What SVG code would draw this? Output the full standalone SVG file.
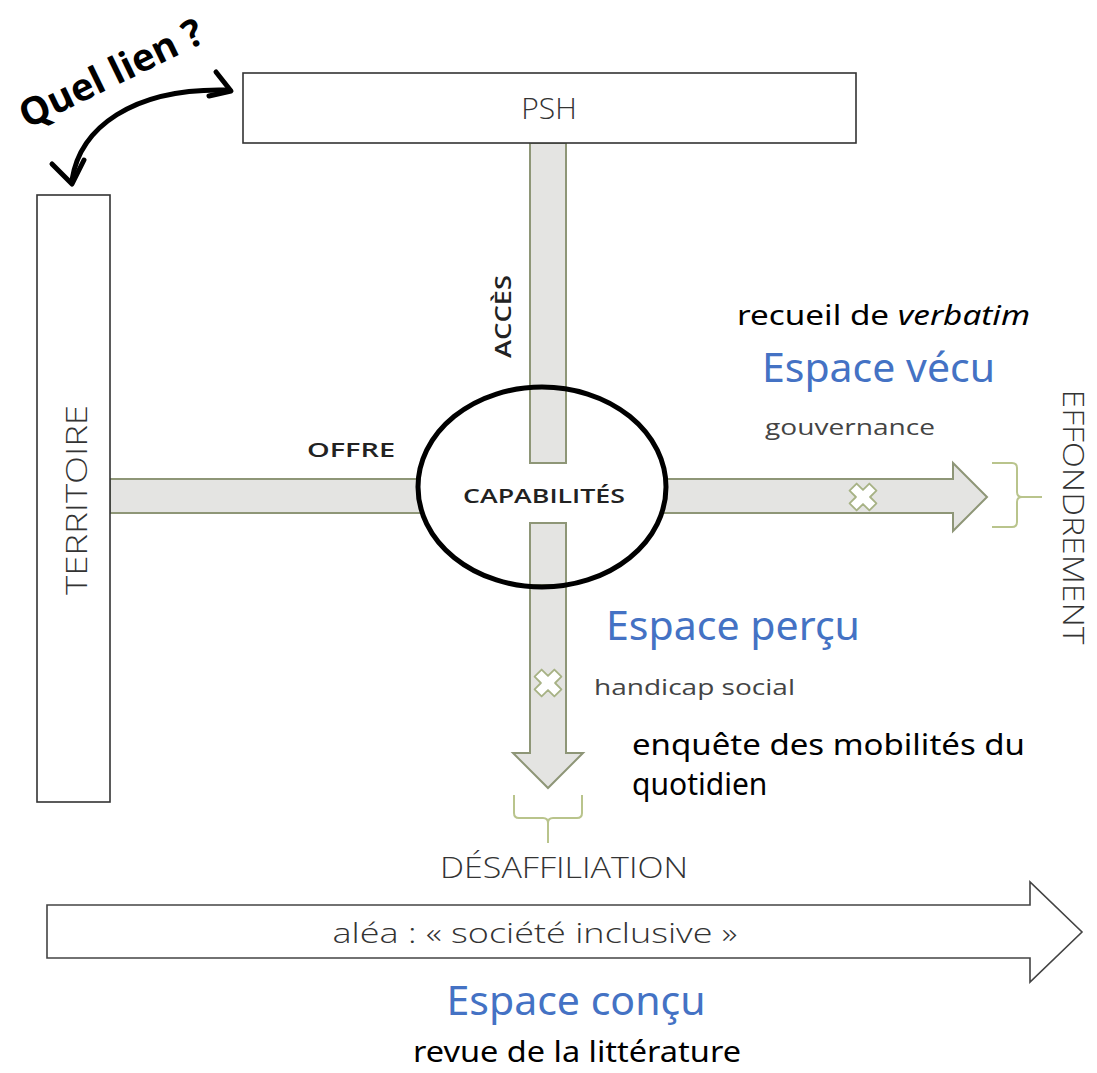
<svg xmlns="http://www.w3.org/2000/svg" width="1097" height="1073" viewBox="0 0 1097 1073">
<style>
.bar{fill:#e4e4e2;stroke:#8e9677;stroke-width:2}
.box{fill:#fff;stroke:#333;stroke-width:1.6}
.lt{font-family:"Open Sans","Liberation Sans",sans-serif;font-weight:300;fill:#333}
.sb{font-family:"Open Sans","Liberation Sans",sans-serif;font-weight:600;fill:#222}
.cal{font-family:"Noto Sans","Liberation Sans",sans-serif;fill:#000}
.blue{font-family:"Noto Sans","Liberation Sans",sans-serif;fill:#4472c4}
.gray{font-family:"Open Sans","Liberation Sans",sans-serif;fill:#444}
.brk{fill:none;stroke:#b9c48c;stroke-width:2}
.xm{fill:#fff;stroke:#a7b285;stroke-width:1.8;stroke-linejoin:round}
.curve{fill:none;stroke:#000;stroke-width:5;stroke-linecap:round;stroke-linejoin:round}
</style>
<defs>
<path id="cross" d="M-5,-14 L5,-14 L5,-5 L14,-5 L14,5 L5,5 L5,14 L-5,14 L-5,5 L-14,5 L-14,-5 L-5,-5 Z"/>
</defs>
<rect width="1097" height="1073" fill="#fff"/>

<g id="connectors">
  <!-- vertical bar PSH to ellipse -->
  <rect class="bar" x="530" y="143" width="36" height="250"/>
  <!-- left bar territoire to ellipse -->
  <rect class="bar" x="110" y="479" width="315" height="34"/>
  <!-- right arrow -->
  <path class="bar" d="M660,479 L953,479 L953,463 L987,497 L953,531 L953,513 L660,513 Z"/>
  <!-- down arrow -->
  <path class="bar" d="M530,580 L530,753 L513,753 L548,788 L583,753 L566,753 L566,580 Z"/>
  <!-- x marks -->
  <use href="#cross" class="xm" transform="translate(863,497) rotate(45)"/>
  <use href="#cross" class="xm" transform="translate(548,683) rotate(45)"/>
  <!-- brackets -->
  <path class="brk" d="M992,463 L1012,463 Q1017,463 1017,468 L1017,492 Q1017,497 1022,497 L1042,497 M1022,497 Q1017,497 1017,502 L1017,522 Q1017,527 1012,527 L992,527"/>
  <path class="brk" d="M514,795 L514,813 Q514,818 519,818 L543,818 Q548,818 548,823 L548,843 M548,823 Q548,818 553,818 L577,818 Q582,818 582,813 L582,795"/>
  <!-- quel lien curved arrow -->
  <path class="curve" d="M72,180 C80,128 132,88 226,90"/>
  <polyline class="curve" points="52,164 72,184 84,160"/>
  <polyline class="curve" points="216,72 231,91 209,96"/>
</g>

<g id="psh">
  <rect class="box" x="243" y="73" width="613" height="70"/>
  <text class="lt" x="549" y="119" font-size="30" text-anchor="middle">PSH</text>
</g>

<g id="territoire">
  <rect class="box" x="37" y="195" width="73" height="607"/>
  <text class="lt" transform="translate(87,500) rotate(-90)" font-size="30" text-anchor="middle" textLength="190" lengthAdjust="spacingAndGlyphs">TERRITOIRE</text>
</g>

<g id="capabilites">
  <ellipse cx="542" cy="487" rx="124" ry="100" fill="#fff"/>
  <rect class="bar" x="530" y="388" width="36" height="75"/>
  <rect class="bar" x="530" y="523" width="36" height="62"/>
  <ellipse cx="542" cy="487" rx="124" ry="100" fill="none" stroke="#000" stroke-width="5"/>
  <text class="sb" x="544" y="503" font-size="20" text-anchor="middle" textLength="162" lengthAdjust="spacingAndGlyphs">CAPABILITÉS</text>
</g>

<g id="labels">
  <text class="sb" x="307" y="457" font-size="20" textLength="88" lengthAdjust="spacingAndGlyphs">OFFRE</text>
  <text class="sb" transform="translate(511,358) rotate(-90)" font-size="21" textLength="83" lengthAdjust="spacingAndGlyphs">ACCÈS</text>
  <text class="cal" x="737" y="325" font-size="27" textLength="293" lengthAdjust="spacingAndGlyphs">recueil de <tspan font-style="italic">verbatim</tspan></text>
  <text class="blue" x="762" y="382" font-size="40" textLength="233" lengthAdjust="spacingAndGlyphs">Espace vécu</text>
  <text class="gray" x="765" y="435" font-size="21" textLength="170" lengthAdjust="spacingAndGlyphs">gouvernance</text>
  <text class="blue" x="606" y="640" font-size="40" textLength="254" lengthAdjust="spacingAndGlyphs">Espace perçu</text>
  <text class="gray" x="594" y="695" font-size="21" textLength="201" lengthAdjust="spacingAndGlyphs">handicap social</text>
  <text class="cal" x="632" y="755" font-size="29" textLength="393" lengthAdjust="spacingAndGlyphs">enquête des mobilités du</text>
  <text class="cal" x="632" y="795" font-size="30">quotidien</text>
</g>

<g id="effondrement">
  <text class="lt" transform="translate(1063,517) rotate(90)" font-size="30" text-anchor="middle" textLength="255" lengthAdjust="spacingAndGlyphs">EFFONDREMENT</text>
</g>

<g id="desaffiliation">
  <text class="lt" x="564" y="878" font-size="29" text-anchor="middle" textLength="248" lengthAdjust="spacingAndGlyphs">DÉSAFFILIATION</text>
</g>

<g id="alea">
  <path d="M47,905 L1030,905 L1030,882 L1082,932 L1030,982 L1030,958 L47,958 Z" fill="#fff" stroke="#444" stroke-width="1.6"/>
  <text class="lt" x="535" y="943" font-size="28" text-anchor="middle" textLength="405" lengthAdjust="spacingAndGlyphs">aléa : « société inclusive »</text>
</g>

<g id="espace-concu">
  <text class="blue" x="576" y="1015" font-size="40" text-anchor="middle" textLength="259" lengthAdjust="spacingAndGlyphs">Espace conçu</text>
  <text class="cal" x="577" y="1062" font-size="29" text-anchor="middle" textLength="328" lengthAdjust="spacingAndGlyphs">revue de la littérature</text>
</g>

<g id="quel-lien">
  <text transform="translate(27,129) rotate(-26)" font-family="Open Sans, Liberation Sans, sans-serif" font-weight="700" font-size="38" fill="#000" textLength="200" lengthAdjust="spacingAndGlyphs">Quel lien ?</text>
</g>
</svg>
